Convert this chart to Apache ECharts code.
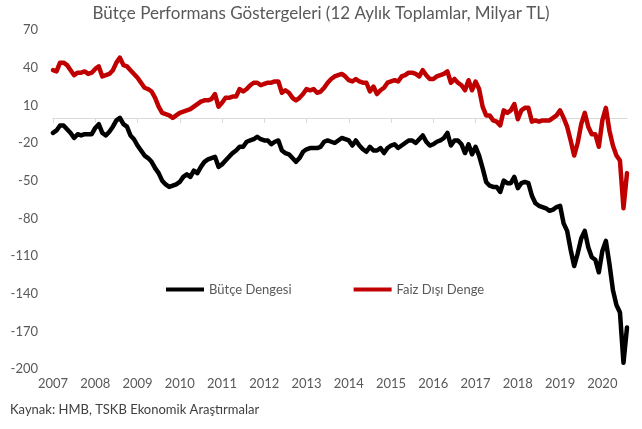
<!DOCTYPE html>
<html>
<head>
<meta charset="utf-8">
<script src="https://cdn.jsdelivr.net/npm/echarts@6/dist/echarts.min.js"></script>
<style>html,body{margin:0;padding:0;background:#fff}#c{width:642px;height:429px}</style>
</head>
<body>
<div id="c"></div>
<script>
// Monthly, Jan 2007 .. Aug 2020
var years = [2007,2008,2009,2010,2011,2012,2013,2014,2015,2016,2017,2018,2019,2020];
var lastMonth = 8; // Aug 2020
var yTicks = { min: -200, max: 70, step: 30 };

var butceDengesi = [
 -12,-10,-6,-6,-9,-12,-16,-13,-14,-13,-13,-13,
 -8,-5,-12,-14,-11,-7,-2,0,-5,-7,-14,-17,
 -22,-26,-30,-32,-35,-40,-44,-50,-53,-55,-54,-53,
 -51,-47,-45,-47,-42,-44,-39,-35,-33,-32,-31,-39,
 -37,-34,-31,-28,-26,-23,-23,-19,-18,-17,-15,-17,
 -18,-18,-21,-19,-18,-26,-28,-29,-32,-35,-32,-27,
 -25,-24,-24,-24,-23,-19,-18,-19,-20,-18,-16,-17,
 -18,-22,-18,-22,-25,-27,-23,-26,-26,-24,-28,-24,
 -22,-21,-24,-22,-20,-18,-18,-20,-17,-14,-19,-22,
 -21,-19,-18,-16,-12,-22,-18,-18,-21,-28,-21,-29,
 -23,-30,-40,-51,-54,-55,-55,-59,-50,-52,-52,-47,
 -56,-52,-51,-52,-62,-68,-70,-71,-72,-74,-73,-71,
 -70,-84,-90,-105,-118,-108,-96,-90,-103,-111,-113,-123,
 -106,-98,-116,-137,-149,-155,-195,-167
];
var faizDisiDenge = [
 38,37,44,44,42,38,34,36,36,37,35,36,
 39,41,33,34,35,38,44,48,42,41,38,35,
 32,28,24,23,21,16,9,4,3,2,0,2,
 4,5,6,7,9,11,13,14,14,15,19,9,
 12,16,16,17,17,23,21,23,26,28,28,26,
 27,28,28,29,29,20,22,20,16,14,16,19,
 23,22,23,20,21,24,28,31,33,34,35,33,
 30,29,31,29,28,28,21,25,19,22,24,28,
 29,30,29,33,34,36,36,35,33,38,34,31,
 31,33,34,35,37,28,31,28,26,22,30,22,
 29,23,9,2,2,-2,-3,-6,6,4,6,11,
 -1,6,8,8,-3,-2,-3,-2,-2,-2,0,2,
 6,0,-7,-18,-30,-20,-5,4,-7,-13,-13,-23,
 -2,8,-10,-22,-30,-34,-72,-44
];

var months = [];
years.forEach(function(y){
  for (var m = 1; m <= 12; m++) {
    if (y === years[years.length-1] && m > lastMonth) break;
    months.push(y + '-' + (m < 10 ? '0' + m : m));
  }
});

var FONT = 'Lato, "Open Sans", sans-serif';
var chart = echarts.init(document.getElementById('c'), null, {renderer:'canvas'});
chart.setOption({
  animation: false,
  backgroundColor: '#ffffff',
  title: {
    text: 'Bütçe Performans Göstergeleri (12 Aylık Toplamlar, Milyar TL)',
    left: 'center', top: 0,
    textStyle: { fontFamily: FONT, fontSize: 17, fontWeight: 'normal', color: '#595959' }
  },
  legend: {
    left: 166, top: 283, padding: 0,
    itemWidth: 38, itemHeight: 4, itemGap: 62,
    icon: 'rect',
    textStyle: { fontFamily: FONT, fontSize: 13, color: '#595959' },
    data: ['Bütçe Dengesi', 'Faiz Dışı Denge']
  },
  graphic: [{
    type: 'text', left: 10, top: 403,
    style: { text: 'Kaynak: HMB, TSKB Ekonomik Araştırmalar', font: '13px ' + FONT, fill: '#404040' }
  }],
  grid: { left: 53, right: 15, top: 30, bottom: 60 },
  xAxis: [{
    type: 'category', data: months, boundaryGap: false,
    axisLine: { onZero: true, lineStyle: { color: '#d9d9d9', width: 1 } },
    axisTick: { show: true, length: 5, interval: function(i){ return i % 12 === 0; }, lineStyle: { color: '#d9d9d9' } },
    axisLabel: { show: false },
    splitLine: { show: false }
  }, {
    type: 'category', data: months, boundaryGap: false, position: 'bottom',
    axisLine: { show: false, onZero: false },
    axisTick: { show: false },
    axisLabel: {
      show: true, margin: 8, fontFamily: FONT, fontSize: 13, color: '#595959',
      interval: function(i){ return i % 12 === 0; },
      formatter: function(v){ return v.slice(0,4); }
    },
    splitLine: { show: false }
  }],
  yAxis: {
    type: 'value', min: yTicks.min, max: yTicks.max, interval: yTicks.step,
    axisLine: { show: false }, axisTick: { show: false }, splitLine: { show: false },
    axisLabel: { margin: 15, fontFamily: FONT, fontSize: 13, color: '#595959' }
  },
  series: [{
    name: 'Bütçe Dengesi', type: 'line', data: butceDengesi, xAxisIndex: 0,
    showSymbol: false, symbol: 'none',
    lineStyle: { color: '#000000', width: 4.5, join: 'round', cap: 'round' },
    itemStyle: { color: '#000000' }
  }, {
    name: 'Faiz Dışı Denge', type: 'line', data: faizDisiDenge, xAxisIndex: 0,
    showSymbol: false, symbol: 'none',
    lineStyle: { color: '#c00000', width: 4.5, join: 'round', cap: 'round' },
    itemStyle: { color: '#c00000' }
  }]
});
</script>
</body>
</html>
